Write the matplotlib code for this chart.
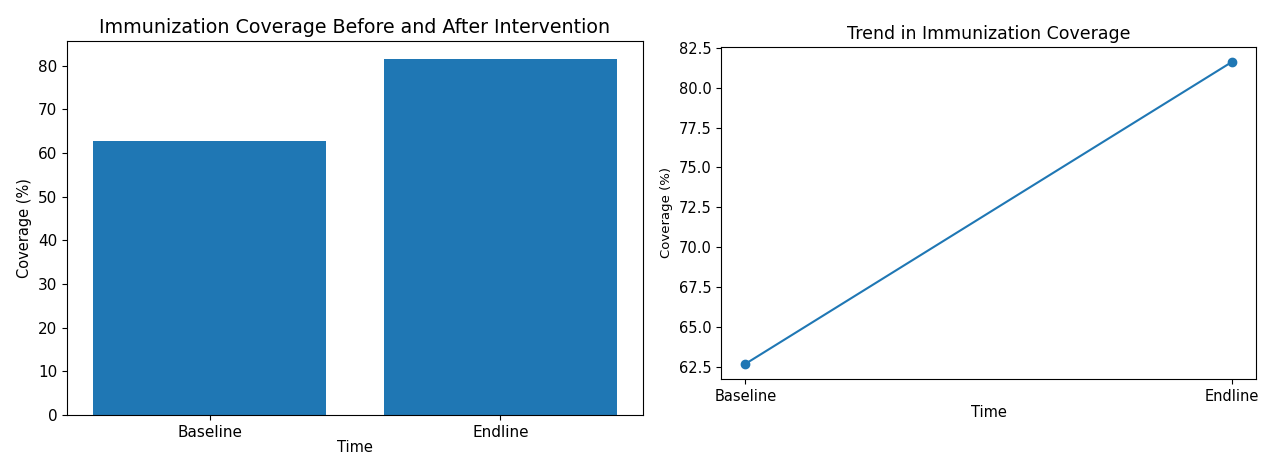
import matplotlib
matplotlib.use("Agg")
import matplotlib.pyplot as plt

W, H = 1261, 454

time_points = ["Baseline", "Endline"]
coverage = [62.7, 81.6]


def box(left, top, right, bottom):
    # pixel box -> figure fraction
    return [left / W, 1 - bottom / H, (right - left) / W, (bottom - top) / H]


fig = plt.figure(figsize=(W / 100, H / 100), dpi=100)

# left: bar chart
ax1 = fig.add_axes(box(67, 41, 643, 415))
ax1.bar(time_points, coverage, color="#1f77b4")
ax1.set_title("Immunization Coverage Before and After Intervention", fontsize=13.7)
ax1.set_xlabel("Time", fontsize=10.5, labelpad=0)
ax1.set_ylabel("Coverage (%)", fontsize=10.5)
ax1.tick_params(labelsize=11)

# right: trend line (kept just inside the right edge so "Endline" fits)
ax2 = fig.add_axes(box(721, 47, 1256, 379))
ax2.plot(time_points, coverage, marker="o", color="#1f77b4")
ax2.set_title("Trend in Immunization Coverage", fontsize=12.5)
ax2.set_xlabel("Time", fontsize=10.5, labelpad=1)
ax2.set_ylabel("Coverage (%)", fontsize=9.5)
ax2.tick_params(labelsize=10.5)

fig.savefig("out.png", dpi=100)
